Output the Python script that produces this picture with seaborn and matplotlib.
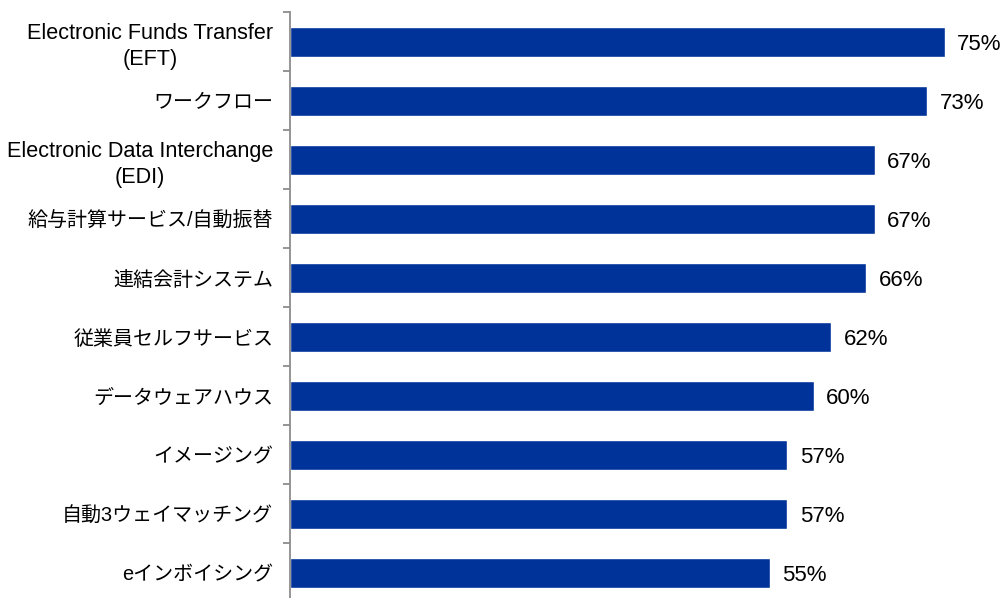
import matplotlib
matplotlib.use("Agg")
import matplotlib.pyplot as plt
import seaborn as sns
import pandas as pd
import numpy as np

categories = [
    "Electronic Funds Transfer\n(EFT)",
    "ワークフロー",
    "Electronic Data Interchange\n(EDI)",
    "給与計算サービス/自動振替",
    "連結会計システム",
    "従業員セルフサービス",
    "データウェアハウス",
    "イメージング",
    "自動3ウェイマッチング",
    "eインボイシング",
]
values = [75, 73, 67, 67, 66, 62, 60, 57, 57, 55]
value_labels = ["75%", "73%", "67%", "67%", "66%", "62%", "60%", "57%", "57%", "55%"]

sns.set_theme(style="white")
plt.rcParams["font.family"] = ["Liberation Sans", "Noto Sans CJK JP", "DejaVu Sans"]

df = pd.DataFrame({"category": categories, "value": values})

fig = plt.figure(figsize=(10.06, 5.98), dpi=100)
ax = fig.add_axes([0.2883, -0.0075, 0.694, 0.9866])

sns.barplot(data=df, x="value", y="category", orient="h", color="#003399",
            saturation=1, width=0.51, ax=ax)

ax.set_xlim(0, 80)
ax.set_ylim(len(categories) - 0.5, -0.5)
ax.set_xlabel("")
ax.set_ylabel("")

for i, (v, lab) in enumerate(zip(values, value_labels)):
    ax.annotate(lab, xy=(v, i), xytext=(9, -1.5), textcoords="offset points",
                ha="left", va="center", fontsize=16, color="#000000",
                annotation_clip=False)

for side in ["top", "right", "bottom"]:
    ax.spines[side].set_visible(False)
ax.spines["left"].set_color("#8c8c8c")
ax.spines["left"].set_linewidth(1.3)

ax.set_xticks([])
ax.set_yticks(np.arange(len(categories)))
ax.set_yticklabels(categories, multialignment="center", linespacing=1.3)
# Latin-only labels are set slightly larger than the Japanese ones
for t in ax.get_yticklabels():
    txt = t.get_text()
    t.set_fontsize(15.6 if txt.isascii() else 14.4)
ax.tick_params(axis="y", which="major", length=0, pad=12, colors="#000000")
ax.set_yticks(np.arange(len(categories) + 1) - 0.5, minor=True)
ax.tick_params(axis="y", which="minor", left=True, length=5, width=1.3,
               color="#8c8c8c", direction="out")

fig.savefig("out.png", dpi=100)
